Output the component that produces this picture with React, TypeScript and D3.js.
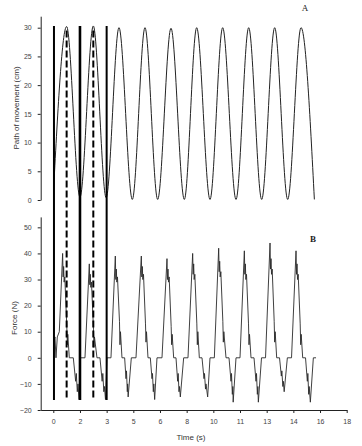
import React, { useEffect, useRef } from "react";
import * as d3 from "d3";

// panel A: path of movement (cm), turning points
const positionTime = [0.02, 0.8, 1.6, 2.4, 3.17, 3.94, 4.74, 5.5, 6.26, 7.06, 7.86, 8.6, 9.4, 10.16, 10.96, 11.72, 12.5, 13.28, 14.06, 14.86, 15.66];
const positionCm = [2, 30.2, 0.5, 30.3, 0.4, 30, 0.1, 30, 0.1, 29.9, 0.1, 30, 0.1, 30, 0.1, 30, 0.1, 30, 0.1, 30, 0.1];

// panel B: force (N), one line per cycle
const forceTime = [
  0.02, 0.1, 0.16, 0.24, 0.36, 0.56, 0.59, 0.62, 0.65, 0.69, 0.81, 0.84, 0.87, 0.96, 1.2, 1.34, 1.38, 1.44, 1.48, 1.55, 1.61, 1.9,
  2.16, 2.19, 2.22, 2.25, 2.29, 2.41, 2.44, 2.47, 2.62, 2.8, 2.93, 2.97, 3.03, 3.07, 3.13, 3.22, 3.46,
  3.72, 3.75, 3.78, 3.81, 3.85, 3.97, 4.0, 4.03, 4.12, 4.28, 4.36, 4.39, 4.44, 4.46, 4.49, 4.68, 4.96,
  5.28, 5.31, 5.34, 5.37, 5.41, 5.53, 5.56, 5.59, 5.68, 5.82, 5.92, 5.95, 6.0, 6.03, 6.08, 6.22, 6.52,
  6.82, 6.85, 6.88, 6.91, 6.95, 7.07, 7.1, 7.13, 7.22, 7.36, 7.46, 7.49, 7.54, 7.57, 7.62, 7.82, 8.08,
  8.36, 8.39, 8.42, 8.45, 8.49, 8.61, 8.64, 8.67, 8.76, 8.92, 9.04, 9.07, 9.13, 9.16, 9.26, 9.4, 9.66,
  9.92, 9.95, 9.98, 10.01, 10.05, 10.17, 10.2, 10.23, 10.36, 10.54, 10.66, 10.69, 10.74, 10.77, 10.79, 10.96, 11.2,
  11.46, 11.49, 11.52, 11.55, 11.59, 11.71, 11.74, 11.77, 11.86, 12.04, 12.16, 12.19, 12.24, 12.27, 12.3, 12.49, 12.73,
  13.0, 13.03, 13.06, 13.09, 13.13, 13.25, 13.28, 13.31, 13.4, 13.57, 13.68, 13.71, 13.77, 13.8, 13.85, 14.04, 14.29,
  14.56, 14.59, 14.62, 14.65, 14.69, 14.81, 14.84, 14.87, 14.96, 15.13, 15.24, 15.27, 15.32, 15.35, 15.42, 15.6, 15.76,
];
const forceN = [
  6, 8, 0, 8, 10, 40, 31, 35, 29, 31, 12, 5, 9, 0, 0, -9, -6, -13, -10, -16, 0, 0,
  36, 28, 32, 27, 29, 11, 4, 8, 0, 0, -9, -6, -13, -11, -16, 0, 0,
  39, 30, 34, 29, 31, 14, 5, 10, 0, 0, -8, -5, -13, -10, -15, 0, 0,
  39, 31, 35, 30, 32, 13, 6, 10, 0, 0, -8, -6, -13, -10, -16, 0, 0,
  38, 30, 34, 29, 31, 12, 5, 9, 0, 0, -9, -6, -13, -11, -15, 0, 0,
  40, 32, 36, 30, 32, 13, 5, 10, 0, 0, -8, -6, -12, -10, -15, 0, 0,
  42, 33, 37, 31, 33, 14, 6, 10, 0, 0, -9, -6, -14, -11, -17, 0, 0,
  41, 32, 36, 30, 32, 13, 5, 9, 0, 0, -9, -6, -14, -11, -17, 0, 0,
  44, 34, 38, 32, 34, 14, 6, 10, 0, 0, -7, -5, -11, -9, -13, 0, 0,
  41, 32, 36, 30, 32, 13, 5, 9, 0, 0, -9, -6, -14, -11, -17, 0, 0,
];

const solidMarkers = [0.04, 1.6, 3.2];
const dashedMarkers = [0.8, 2.4];

const timeTicks = [0, 1.6, 3.2, 4.8, 6.4, 8, 9.6, 11.2, 12.8, 14.4, 16, 17.6];
const timeTickLabels = ["0", "2", "3", "5", "6", "8", "10", "11", "13", "14", "16", "18"];
const pathTicks = [0, 5, 10, 15, 20, 25, 30];
const forceTicks = [-20, -10, 0, 10, 20, 30, 40, 50];

const settings = {
  width: 362,
  height: 446,
  font: "Arial, 'Liberation Sans', sans-serif",
};

export default function App() {
  const svgRef = useRef<SVGSVGElement>(null);

  useEffect(() => {
    const svg = d3.select(svgRef.current);
    svg.selectAll("*").remove();

    const x = d3.scaleLinear().domain([-0.756, 17.6]).range([40.7, 346.7]);
    const yPath = d3.scaleLinear().domain([0, 32]).range([200, 16.2]);
    const yForce = d3.scaleLinear().domain([-20, 54]).range([410, 216.9]);

    const styleAxis = (g: any) => {
      g.attr("font-family", settings.font).attr("font-size", 7);
      g.selectAll("text").attr("fill", "#444");
      g.selectAll("line").attr("stroke", "#222");
      g.select(".domain").attr("stroke", "#222");
    };

    // axes
    svg
      .append("g")
      .attr("transform", "translate(40.7,0)")
      .call(d3.axisLeft(yPath).tickValues(pathTicks).tickSize(3).tickSizeOuter(0).tickPadding(6))
      .call(styleAxis);

    svg
      .append("g")
      .attr("transform", "translate(40.7,0)")
      .call(d3.axisLeft(yForce).tickValues(forceTicks).tickSize(3).tickSizeOuter(0).tickPadding(6))
      .call(styleAxis);

    svg
      .append("g")
      .attr("transform", "translate(0,410)")
      .call(
        d3
          .axisBottom(x)
          .tickValues(timeTicks)
          .tickSize(3)
          .tickSizeOuter(0)
          .tickPadding(6)
          .tickFormat((d, i) => timeTickLabels[i])
      )
      .call(styleAxis);

    // traces
    const posLine = d3
      .line<number>()
      .x((d, i) => x(positionTime[i]))
      .y((d) => yPath(d))
      .curve(d3.curveMonotoneX);

    svg
      .append("path")
      .attr("d", posLine(positionCm))
      .attr("fill", "none")
      .attr("stroke", "#222")
      .attr("stroke-width", 1);

    const forceLine = d3
      .line<number>()
      .x((d, i) => x(forceTime[i]))
      .y((d) => yForce(d));

    svg
      .append("path")
      .attr("d", forceLine(forceN))
      .attr("fill", "none")
      .attr("stroke", "#2a2a2a")
      .attr("stroke-width", 0.9)
      .attr("stroke-linejoin", "miter");

    // event markers spanning both panels
    svg
      .append("g")
      .selectAll("line")
      .data(solidMarkers)
      .join("line")
      .attr("x1", (d) => x(d))
      .attr("x2", (d) => x(d))
      .attr("y1", yPath(30.3))
      .attr("y2", yForce(-16.2))
      .attr("stroke", "#000")
      .attr("stroke-width", (d, i) => (i === 1 ? 2.6 : 2));

    svg
      .append("g")
      .selectAll("line")
      .data(dashedMarkers)
      .join("line")
      .attr("x1", (d) => x(d))
      .attr("x2", (d) => x(d))
      .attr("y1", yPath(29.5))
      .attr("y2", yForce(-16.2))
      .attr("stroke", "#000")
      .attr("stroke-width", 2)
      .attr("stroke-dasharray", "7,3");

    // titles
    svg
      .append("text")
      .attr("transform", "translate(19,108) rotate(-90)")
      .attr("text-anchor", "middle")
      .attr("font-family", settings.font)
      .attr("font-size", 8)
      .attr("fill", "#333")
      .text("Path of movement (cm)");

    svg
      .append("text")
      .attr("transform", "translate(17,318) rotate(-90)")
      .attr("text-anchor", "middle")
      .attr("font-family", settings.font)
      .attr("font-size", 8)
      .attr("fill", "#333")
      .text("Force (N)");

    svg
      .append("text")
      .attr("x", 191)
      .attr("y", 440)
      .attr("text-anchor", "middle")
      .attr("font-family", settings.font)
      .attr("font-size", 8)
      .attr("fill", "#333")
      .text("Time (s)");

    svg
      .append("text")
      .attr("x", 305)
      .attr("y", 11)
      .attr("text-anchor", "middle")
      .attr("font-family", "'Liberation Serif', 'DejaVu Serif', serif")
      .attr("font-size", 9)
      .attr("fill", "#222")
      .text("A");

    svg
      .append("text")
      .attr("x", 313)
      .attr("y", 242)
      .attr("text-anchor", "middle")
      .attr("font-family", "'Liberation Serif', 'DejaVu Serif', serif")
      .attr("font-size", 9)
      .attr("font-weight", "bold")
      .attr("fill", "#222")
      .text("B");
  }, []);

  return (
    <svg
      ref={svgRef}
      width={settings.width}
      height={settings.height}
      style={{ position: "absolute", left: 0, top: 0, background: "#fff" }}
    ></svg>
  );
}
